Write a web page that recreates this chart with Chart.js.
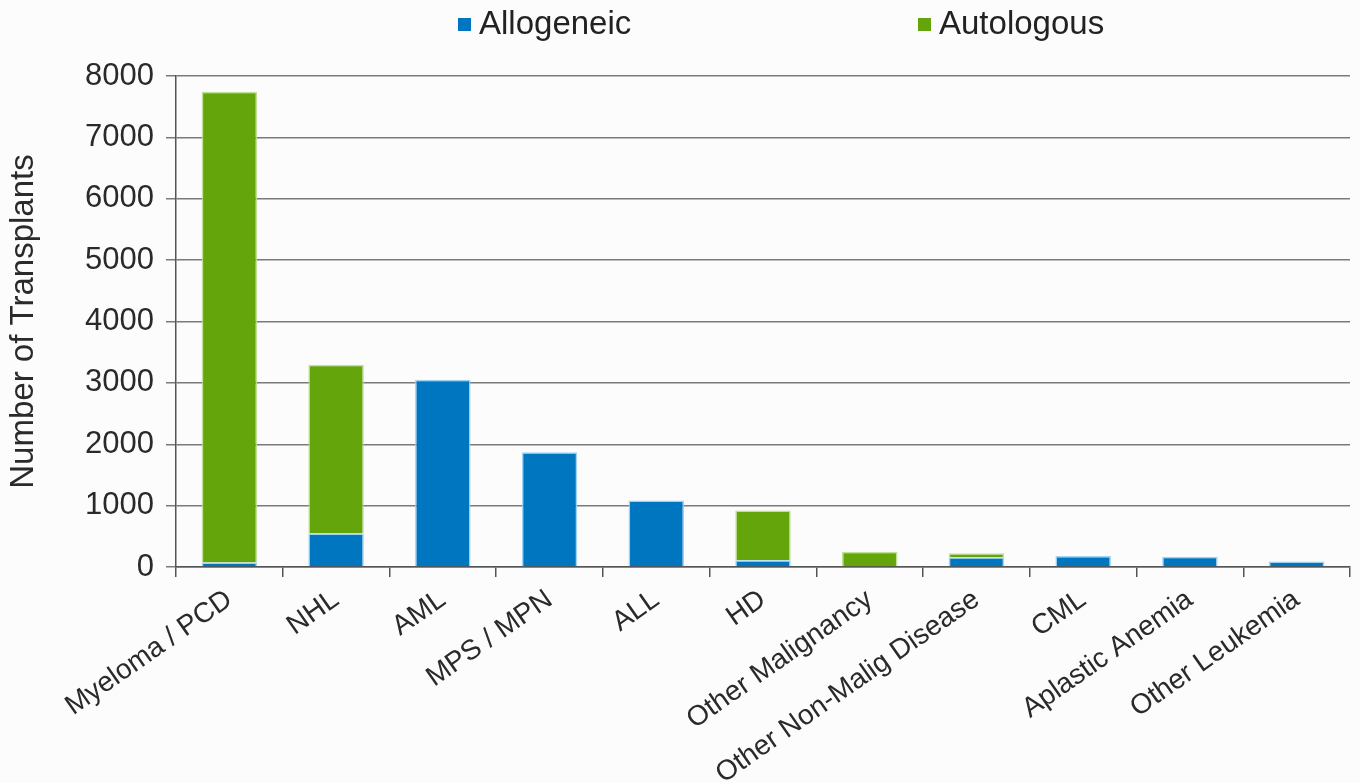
<!DOCTYPE html>
<html>
<head>
<meta charset="utf-8">
<script src="https://cdn.jsdelivr.net/npm/chart.js@4.4.1/dist/chart.umd.min.js"></script>
<style>
  html, body { margin: 0; padding: 0; background: #fcfcfc; }
  #wrap { width: 1360px; height: 783px; position: relative; }
</style>
</head>
<body>
<div id="wrap"><canvas id="chart" width="1360" height="783"></canvas></div>
<script>
// Transplant counts by disease, split by donor type
const categories = ['Myeloma / PCD', 'NHL', 'AML', 'MPS / MPN', 'ALL', 'HD',
  'Other Malignancy', 'Other Non-Malig Disease', 'CML', 'Aplastic Anemia', 'Other Leukemia'];
const allogeneic = [75, 545, 3050, 1870, 1085, 110, 0, 160, 180, 165, 90];
const autologous = [7670, 2750, 0, 0, 0, 810, 250, 65, 0, 0, 0];
const yTicks = [0, 1000, 2000, 3000, 4000, 5000, 6000, 7000, 8000];
const seriesNames = ['Allogeneic', 'Autologous'];

const BLUE = '#0076c0';
const GREEN = '#63a50b';
const FONT = '"Liberation Sans", Arial, sans-serif';

// Wide-spaced legend drawn above the plot
const spacedLegend = {
  id: 'spacedLegend',
  afterDraw(chart) {
    const ctx = chart.ctx;
    const xs = [458, 918];
    ctx.save();
    ctx.font = '33px ' + FONT;
    ctx.textBaseline = 'middle';
    chart.data.datasets.forEach((ds, i) => {
      const x = xs[i], y = 25;
      ctx.fillStyle = ds.backgroundColor;
      ctx.fillRect(x, y - 7, 13, 13);
      ctx.fillStyle = '#222';
      ctx.fillText(ds.label, x + 21, y);
    });
    ctx.restore();
  }
};

new Chart(document.getElementById('chart'), {
  type: 'bar',
  data: {
    labels: categories,
    datasets: [
      { label: seriesNames[0], data: allogeneic, backgroundColor: BLUE,
        borderColor: 'rgba(150,205,240,0.9)', borderWidth: 1.5, borderSkipped: 'bottom' },
      { label: seriesNames[1], data: autologous, backgroundColor: GREEN,
        borderColor: 'rgba(185,220,140,0.9)', borderWidth: 1.5, borderSkipped: 'bottom' }
    ]
  },
  plugins: [spacedLegend],
  options: {
    responsive: false,
    animation: false,
    layout: { padding: { top: 76, right: 10, left: 0, bottom: 0 } },
    datasets: { bar: { barPercentage: 0.52, categoryPercentage: 1 } },
    plugins: { legend: { display: false }, tooltip: { enabled: false } },
    scales: {
      x: {
        stacked: true,
        afterFit(scale) { scale.height = 216; },
        grid: { display: true, drawOnChartArea: false, offset: true,
                tickLength: 10, color: '#555', lineWidth: 1.5 },
        border: { display: true, color: '#555', width: 1.5 },
        ticks: { minRotation: 35, maxRotation: 35, autoSkip: false, padding: 6,
                 color: '#2a2a2a', font: { family: FONT, size: 28 } }
      },
      y: {
        stacked: true,
        min: 0, max: 8000,
        afterFit(scale) { scale.width = 176; },
        afterBuildTicks(scale) { scale.ticks = yTicks.map(v => ({ value: v })); },
        grid: { color: '#7a7a7a', lineWidth: 1.5, tickLength: 10 },
        border: { display: true, color: '#555', width: 1.5 },
        ticks: { padding: 12, color: '#2a2a2a', font: { family: FONT, size: 31 },
                 callback: v => String(v) },
        title: { display: true, text: 'Number of Transplants', color: '#2a2a2a',
                 padding: { top: 4, bottom: 0 }, font: { family: FONT, size: 33 } }
      }
    }
  }
});
</script>
</body>
</html>
